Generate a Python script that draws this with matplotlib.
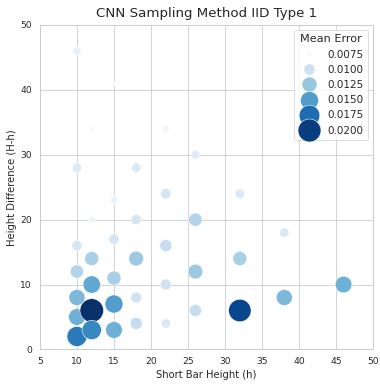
import matplotlib
matplotlib.use("Agg")
import matplotlib.pyplot as plt
import seaborn as sns
import pandas as pd

short_bar = [10, 15, 12, 22, 26, 10, 18, 22, 32, 15, 12, 18, 26, 38, 10, 15, 22,
             12, 18, 32, 10, 15, 26, 22, 12, 46, 10, 18, 38, 10, 15, 12, 32, 26,
             10, 12, 15, 18, 22]
height_diff = [46, 41, 34, 34, 30, 28, 28, 24, 24, 23, 20, 20, 20, 18, 16, 17, 16,
               14, 14, 14, 12, 11, 12, 10, 10, 10, 8, 8, 8, 5, 7, 6, 6, 6,
               2, 3, 3, 4, 4]
mean_error = [0.0085, 0.0072, 0.0074, 0.0079, 0.0088, 0.0091, 0.0091, 0.0095, 0.0091,
              0.0081, 0.0079, 0.0095, 0.0113, 0.0091, 0.0095, 0.0095, 0.0105,
              0.0118, 0.0123, 0.0118, 0.0113, 0.0118, 0.0123, 0.0098, 0.0144, 0.0138,
              0.0133, 0.0098, 0.0133, 0.0138, 0.0150, 0.0207, 0.0195, 0.0105,
              0.0168, 0.0162, 0.0138, 0.0105, 0.0091]

df = pd.DataFrame({"Short Bar Height (h)": short_bar,
                   "Height Difference (H-h)": height_diff,
                   "Mean Error": mean_error})

sns.set_theme(style="whitegrid")
fig, ax = plt.subplots(figsize=(380 / 60, 384 / 60), dpi=60)
sns.scatterplot(data=df, x="Short Bar Height (h)", y="Height Difference (H-h)",
                hue="Mean Error", size="Mean Error", palette="Blues",
                sizes=(20, 800), ax=ax)
ax.set_xlim(5, 50)
ax.set_ylim(0, 50)
ax.set_xticks(range(5, 51, 5))
ax.set_yticks(range(0, 51, 10))
ax.set_title("CNN Sampling Method IID Type 1", fontsize=16, pad=10)
ax.legend(title="Mean Error", loc="upper right", fontsize=12.5, title_fontsize=13.5)
fig.subplots_adjust(left=0.105, right=0.982, top=0.935, bottom=0.09)
fig.savefig("out.png", dpi=60)
